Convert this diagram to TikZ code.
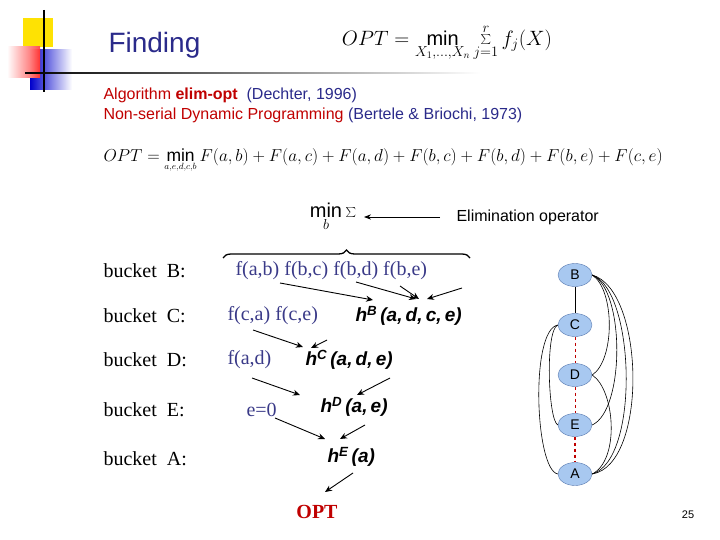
\documentclass[tikz,border=0pt]{standalone}
\usepackage{fontspec}
\setmainfont{Liberation Serif}
\setsansfont{Liberation Sans}
\usetikzlibrary{shapes.geometric,decorations.pathreplacing,arrows.meta}
\definecolor{navy}{HTML}{2A2A8A}
\definecolor{fblue}{HTML}{3A3A88}
\definecolor{dred}{HTML}{C00000}
\definecolor{nfill}{HTML}{A8C8F0}
\definecolor{nedge}{HTML}{5A7AB0}
\tikzset{
 bucket/.style={anchor=west,font=\fontsize{20}{20}\selectfont},
 fx/.style={anchor=west,text=fblue,font=\fontsize{20}{20}\selectfont},
 hh/.style={anchor=west,font=\sffamily\bfseries\itshape\fontsize{19}{19}\selectfont},
 arr/.style={-{Stealth[length=7pt,width=6pt]},line width=0.9pt},
 gnode/.style={ellipse,draw=nedge,fill=nfill,minimum width=34pt,minimum height=23pt,inner sep=0pt,font=\sffamily\fontsize{14}{14}\selectfont},
 gedge/.style={line width=0.6pt},
 rdash/.style={dashed,draw=red!75!black,line width=0.8pt}
}
\begin{document}
\begin{tikzpicture}[x=1pt,y=-1pt]
\useasboundingbox (0,0) rectangle (720,540);
% logo
\fill[yellow!85!orange] (23,18) rectangle (53,47);
\shade[left color=white,right color=red!70] (7,47) rectangle (40,78);
\shade[left color=blue!80!black,right color=white] (30,50) rectangle (72,90);
\shade[left color=red!50,right color=red!80] (30,50) rectangle (40,78);
\draw[line width=1.2pt] (44,10) -- (44,92);
\shade[left color=black,right color=white] (25,72.3) rectangle (480,73.7);
\node[anchor=west,text=navy,font=\sffamily\fontsize{28}{28}\selectfont] (title) at (105,45) {Finding};
\node (f1) at (447,43) {\fontsize{20}{20}\selectfont$OPT=\mathop{\textsf{min}}\limits_{X_1,\ldots,X_n}\sum\limits_{j=1}^{r} f_j(X)$};
\node[anchor=west,font=\sffamily\fontsize{16}{16}\selectfont] (alg) at (100,95) {\textcolor{dred}{Algorithm \textbf{elim-opt}}\ \ \textcolor{navy}{(Dechter, 1996)}};
\node[anchor=west,font=\sffamily\fontsize{16}{16}\selectfont] (nsd) at (100,115) {\textcolor{dred}{Non-serial Dynamic Programming} \textcolor{navy}{(Bertele \& Briochi, 1973)}};
\node[anchor=west] (f2) at (100,160) {\fontsize{17.5}{17.5}\selectfont$OPT=\mathop{\textsf{min}}\limits_{\scriptscriptstyle a,e,d,c,b} F(a,b)+F(a,c)+F(a,d)+F(b,c)+F(b,d)+F(b,e)+F(c,e)$};
\node (mins) at (333,217) {\fontsize{20}{20}\selectfont$\mathop{\textsf{min}}\limits_{b}\sum$};
\node[anchor=west,font=\sffamily\fontsize{16}{16}\selectfont] (elim) at (453,217) {Elimination operator};
\draw[-{Stealth[length=7pt]},line width=0.9pt] (440,217) -- (364,217);
\draw[decorate,decoration={brace,amplitude=8pt},line width=1.3pt] (223,258) -- (470,258);
% buckets
\node[bucket] (bB) at (100,271) {bucket\ \ B:};
\node[bucket] (bC) at (100,316) {bucket\ \ C:};
\node[bucket] (bD) at (100,360) {bucket\ \ D:};
\node[bucket] (bE) at (100,410) {bucket\ \ E:};
\node[bucket] (bA) at (100,459) {bucket\ \ A:};
\node[fx] (fB) at (232,271) {f(a,b) f(b,c) f(b,d) f(b,e)};
\node[fx] (fC) at (224,316) {f(c,a) f(c,e)};
\node[hh] (hB) at (352,316) {h\textsuperscript{B}\,(a,\,d,\,c,\,e)};
\node[fx] (fD) at (224,360) {f(a,d)};
\node[hh] (hC) at (302,360) {h\textsuperscript{C}\,(a,\,d,\,e)};
\node[fx] (fE) at (243,410) {e=0};
\node[hh] (hD) at (317,407) {h\textsuperscript{D}\,(a,\,e)};
\node[hh] (hE) at (324,457) {h\textsuperscript{E}\,(a)};
\node[text=dred,font=\bfseries\fontsize{20}{20}\selectfont] (opt) at (317,512) {OPT};
\coordinate (a1) at (280,283); \coordinate (a1e) at (373,300);
\coordinate (a2) at (356,282); \coordinate (a2e) at (416,299);
\coordinate (a3) at (400,286); \coordinate (a3e) at (419,299);
\coordinate (a4) at (462,288); \coordinate (a4e) at (427,299);
\coordinate (c1) at (253,330); \coordinate (c1e) at (303,347);
\coordinate (c2) at (327,340); \coordinate (c2e) at (311,348);
\coordinate (d1) at (252,378); \coordinate (d1e) at (300,395);
\coordinate (d2) at (390,378); \coordinate (d2e) at (357,395);
\coordinate (e1) at (275,418); \coordinate (e1e) at (325,439);
\coordinate (e2) at (365,425); \coordinate (e2e) at (340,439);
\coordinate (o1) at (353,473); \coordinate (o1e) at (325,492);
\foreach \s/\t in {a1/a1e,a2/a2e,a3/a3e,a4/a4e,c1/c1e,c2/c2e,d1/d1e,d2/d2e,e1/e1e,e2/e2e,o1/o1e}
  \draw[arr] (\s) -- (\t);
% graph
\node[gnode] (B) at (575,275) {B};
\node[gnode] (C) at (575,325) {C};
\node[gnode] (D) at (575,375) {D};
\node[gnode] (E) at (575,425) {E};
\node[gnode] (A) at (575,474) {A};
\draw[gedge] (B) -- (C);
\draw[rdash] (C) -- (D);
\draw[rdash] (D) -- (E);
\draw[rdash,line width=1.8pt] (E) -- (A);
\draw[gedge] (B.east) .. controls (615,290) and (615,360) .. (D.east);
\draw[gedge] (B.east) .. controls (625,290) and (625,410) .. (E.east);
\draw[gedge] (B.east) .. controls (635,290) and (640,460) .. (A.east);
\draw[gedge] (B.east) .. controls (645,290) and (648,465) .. (A.east);
\draw[gedge] (D.east) .. controls (615,390) and (620,460) .. (A.east);
\draw[gedge] (C.west) .. controls (545,330) and (548,420) .. (E.west);
\draw[gedge] (C.west) .. controls (530,330) and (535,470) .. (A.west);
\node[font=\sffamily\fontsize{11}{11}\selectfont] (pg) at (688,515) {25};
\end{tikzpicture}
\end{document}
